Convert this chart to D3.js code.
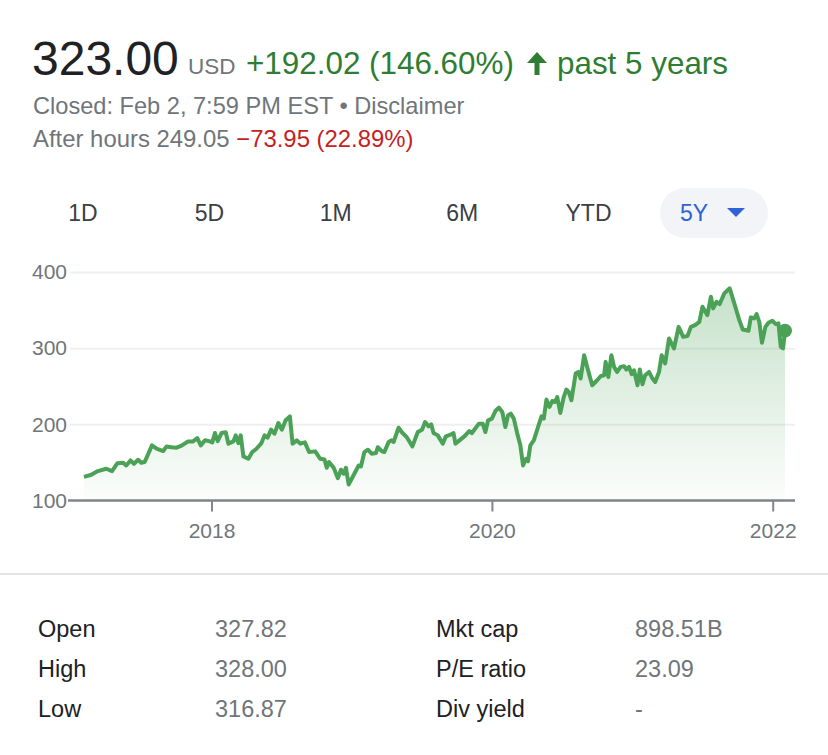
<!DOCTYPE html>
<html>
<head>
<meta charset="utf-8">
<script src="https://cdn.jsdelivr.net/npm/d3@7"></script>
<style>
  body { margin: 0; background: #fff; }
  svg { display: block; font-family: "Liberation Sans", Arial, sans-serif; }
</style>
</head>
<body>
<svg id="chart" width="828" height="755"></svg>
<script>
// price history
var dates = [
  "2017-02-03","2017-02-22","2017-03-11","2017-04-02","2017-04-17","2017-05-01","2017-05-16","2017-05-24",
  "2017-06-04","2017-06-13","2017-06-24","2017-07-02","2017-07-11","2017-07-30","2017-08-11","2017-08-28",
  "2017-09-06","2017-09-19","2017-10-02","2017-10-15","2017-11-01","2017-11-14","2017-11-25","2017-12-04",
  "2017-12-15","2017-12-28","2018-01-03","2018-01-10","2018-01-17","2018-01-27","2018-02-07","2018-02-14",
  "2018-02-27","2018-03-05","2018-03-12","2018-03-18","2018-03-25","2018-04-07","2018-04-17","2018-04-28",
  "2018-05-11","2018-05-19","2018-05-27","2018-06-05","2018-06-14","2018-06-24","2018-07-03","2018-07-13",
  "2018-07-24","2018-07-31","2018-08-11","2018-08-20","2018-09-01","2018-09-12","2018-09-28","2018-10-11",
  "2018-10-22","2018-10-28","2018-11-03","2018-11-15","2018-11-26","2018-12-04","2018-12-11","2018-12-17",
  "2018-12-24","2019-01-01","2019-01-19","2019-01-25","2019-02-03","2019-02-12","2019-02-22","2019-03-05",
  "2019-03-10","2019-03-20","2019-03-27","2019-04-07","2019-04-15","2019-04-20","2019-05-03","2019-05-11",
  "2019-05-24","2019-06-08","2019-06-22","2019-07-03","2019-07-11","2019-07-20","2019-07-27","2019-08-02",
  "2019-08-13","2019-08-26","2019-09-03","2019-09-17","2019-09-23","2019-09-28","2019-10-11","2019-10-24",
  "2019-11-03","2019-11-10","2019-11-28","2019-12-08","2019-12-15","2019-12-22","2020-01-01","2020-01-10",
  "2020-01-19","2020-01-28","2020-02-05","2020-02-12","2020-02-19","2020-02-27","2020-03-07","2020-03-15",
  "2020-03-22","2020-03-30","2020-04-04","2020-04-10","2020-04-19","2020-04-30","2020-05-09","2020-05-15",
  "2020-05-22","2020-05-30","2020-06-06","2020-06-13","2020-06-19","2020-06-27","2020-07-06","2020-07-13",
  "2020-07-19","2020-07-26","2020-08-06","2020-08-13","2020-08-19","2020-08-28","2020-09-05","2020-09-18",
  "2020-10-01","2020-10-10","2020-10-19","2020-10-23","2020-10-30","2020-11-07","2020-11-14","2020-11-22",
  "2020-12-01","2020-12-10","2020-12-16","2020-12-23","2020-12-30","2021-01-05","2021-01-14","2021-01-20",
  "2021-01-27","2021-02-03","2021-02-13","2021-02-22","2021-03-01","2021-03-11","2021-03-18","2021-03-27",
  "2021-04-06","2021-04-19","2021-05-01","2021-05-13","2021-05-24","2021-06-02","2021-06-13","2021-06-24",
  "2021-07-02","2021-07-15","2021-07-24","2021-07-30","2021-08-08","2021-08-16","2021-08-28","2021-09-11",
  "2021-09-23","2021-10-06","2021-10-15","2021-10-30","2021-11-05","2021-11-14","2021-11-20","2021-11-27",
  "2021-12-04","2021-12-13","2021-12-21","2021-12-31","2022-01-09","2022-01-16","2022-01-22","2022-01-28",
  "2022-02-02"
];
var prices = [
  131, 133.8, 138.6, 141.7, 138.6, 149, 149.6, 146,
  152.6, 148.2, 153.5, 149.6, 150.5, 172.4, 168, 164.9,
  171, 170, 169.3, 172, 177.6, 177.6, 182, 172.4,
  179, 177.6, 176.3, 188.6, 178, 188.6, 189.5, 174.6,
  177.6, 185.5, 175.4, 185.5, 157.9, 154.8, 163.6, 168,
  175.4, 185.5, 182.5, 193, 187.8, 201.7, 193, 205.3,
  210.5, 174.6, 179, 174.6, 176.3, 163.6, 164.5, 154.8,
  153.9, 143, 150.4, 143, 129.3, 140.4, 135.1, 143,
  121, 128.5, 146, 144.7, 163.6, 166.7, 161.4, 162.3,
  170, 164.9, 163.6, 176.8, 179, 176.8, 195.6, 189.9,
  183.3, 171, 189.9, 193, 203, 197.4, 200, 188.6,
  185.5, 174.6, 184.2, 186.8, 188.6, 174.6, 179.9, 185.5,
  191.2, 188.6, 200.9, 200.9, 189.9, 205.3, 207.5, 217.5,
  222, 216.2, 196.4, 211.8, 214, 207.5, 187.8, 172.4,
  146, 154.8, 151.7, 172.4, 179, 196.4, 210.5, 207.5,
  232.5, 222.8, 230.7, 229.3, 235.9, 214.9, 235.9, 245.7,
  242.5, 231.6, 266.7, 268.8, 260.1, 290.8, 275.4, 251.3,
  257.9, 263.2, 264.5, 282, 262.2, 290.8, 275.4, 268.8,
  275.4, 276.3, 272, 275.4, 265.8, 271, 251.3, 272,
  252.6, 264.5, 268.8, 260.1, 255.7, 268.8, 290.8, 279.9,
  312.7, 299.6, 328, 314.9, 315.8, 328, 330.3, 334.6,
  354.3, 343.4, 367.5, 352.2, 360.9, 357.9, 371.9, 378.6,
  358.8, 336.8, 324.6, 322.8, 340.4, 339.1, 344.7, 334.6,
  307, 328, 333.3, 335.9, 331.6, 332.5, 301.7, 299.6,
  323
];
var yTicks = [100, 200, 300, 400];
var xTickYears = [2018, 2020, 2022];
var ranges = ["1D", "5D", "1M", "6M", "YTD"];
var activeRange = "5Y";
var statLabelsL = ["Open", "High", "Low"];
var statValuesL = ["327.82", "328.00", "316.87"];
var statLabelsR = ["Mkt cap", "P/E ratio", "Div yield"];
var statValuesR = ["898.51B", "23.09", "-"];

var green = "#4ba257", greenText = "#2e7d32", gray = "#70757a", dark = "#202124";

var svg = d3.select("#chart");
var parse = d3.timeParse("%Y-%m-%d");
var data = dates.map(function(d, i) { return {date: parse(d), price: prices[i]}; });

// header
svg.append("text").attr("x", 32).attr("y", 75).attr("font-size", 48).attr("fill", dark).text("323.00");
svg.append("text").attr("x", 188).attr("y", 74).attr("font-size", 22.5).attr("fill", gray).text("USD");
svg.append("text").attr("x", 246).attr("y", 74).attr("font-size", 31.4).attr("fill", greenText).text("+192.02 (146.60%)");
svg.append("path").attr("fill", greenText)
  .attr("d", "M537,52 L547,63 L539.5,63 L539.5,75 L534.5,75 L534.5,63 L527,63 Z");
svg.append("text").attr("x", 557).attr("y", 74).attr("font-size", 31.4).attr("fill", greenText).text("past 5 years");
svg.append("text").attr("x", 33).attr("y", 114).attr("font-size", 23.6).attr("fill", gray)
  .text("Closed: Feb 2, 7:59 PM EST \u2022 Disclaimer");
var ah = svg.append("text").attr("x", 33).attr("y", 147).attr("font-size", 23.9).attr("fill", gray);
ah.append("tspan").text("After hours 249.05 ");
ah.append("tspan").attr("fill", "#c5221f").text("\u221273.95 (22.89%)");

// range selector
var tabX = d3.scalePoint().domain(ranges).range([83, 588.5]);
svg.selectAll(".tab").data(ranges).enter().append("text")
  .attr("class", "tab")
  .attr("x", function(d) { return tabX(d); })
  .attr("y", 221)
  .attr("text-anchor", "middle")
  .attr("font-size", 23)
  .attr("fill", "#3c4043")
  .text(function(d) { return d; });
svg.append("rect").attr("x", 660).attr("y", 188).attr("width", 108).attr("height", 50).attr("rx", 25)
  .attr("fill", "#f2f4f7");
svg.append("text").attr("x", 680).attr("y", 221).attr("font-size", 23).attr("fill", "#2f62d6").text(activeRange);
svg.append("path").attr("fill", "#2f62d6").attr("d", "M727,208 L745,208 L736,217 Z");

// chart
var x = d3.scaleTime().domain(d3.extent(data, function(d) { return d.date; })).range([84, 785]);
var y = d3.scaleLinear().domain([100, 400]).range([500.5, 272]);

var defs = svg.append("defs");
var grad = defs.append("linearGradient").attr("id", "fill")
  .attr("gradientUnits", "userSpaceOnUse").attr("x1", 0).attr("x2", 0).attr("y1", 285).attr("y2", 500);
grad.append("stop").attr("offset", 0).attr("stop-color", green).attr("stop-opacity", 0.32);
grad.append("stop").attr("offset", 1).attr("stop-color", green).attr("stop-opacity", 0.02);

svg.append("g")
  .attr("transform", "translate(70,0)")
  .call(d3.axisLeft(y).tickValues(yTicks).tickSize(-725).tickPadding(3))
  .call(function(g) {
    g.select(".domain").remove();
    g.selectAll("line").attr("stroke", "#efefef").attr("stroke-width", 2);
    g.selectAll("text").attr("font-size", 21).attr("fill", gray).attr("font-family", "Liberation Sans, Arial");
  });

svg.append("path").datum(data)
  .attr("fill", "url(#fill)")
  .attr("d", d3.area().x(function(d) { return x(d.date); }).y0(y(100)).y1(function(d) { return y(d.price); }));

svg.append("line").attr("x1", 68).attr("x2", 795).attr("y1", y(100)).attr("y2", y(100))
  .attr("stroke", "#80868b").attr("stroke-width", 2.5);

svg.append("g")
  .attr("transform", "translate(0," + y(100) + ")")
  .call(d3.axisBottom(x)
    .tickValues(xTickYears.map(function(yr) { return new Date(yr, 0, 1); }))
    .tickFormat(d3.timeFormat("%Y")).tickSize(11).tickPadding(12))
  .call(function(g) {
    g.select(".domain").remove();
    g.selectAll("line").attr("stroke", "#80868b").attr("stroke-width", 2);
    g.selectAll("text").attr("font-size", 21).attr("fill", gray).attr("font-family", "Liberation Sans, Arial");
  });

svg.append("path").datum(data)
  .attr("fill", "none")
  .attr("stroke", green)
  .attr("stroke-width", 4)
  .attr("stroke-linejoin", "round")
  .attr("d", d3.line().x(function(d) { return x(d.date); }).y(function(d) { return y(d.price); }));

var last = data[data.length - 1];
svg.append("circle").attr("cx", x(last.date)).attr("cy", y(last.price)).attr("r", 7).attr("fill", green);

// divider and key stats
svg.append("line").attr("x1", 0).attr("x2", 828).attr("y1", 574).attr("y2", 574)
  .attr("stroke", "#e3e3e3").attr("stroke-width", 2);

var rowY = d3.scalePoint().domain([0, 1, 2]).range([637, 717]);
function statCol(labels, xpos, color) {
  svg.selectAll(null).data(labels).enter().append("text")
    .attr("x", xpos).attr("y", function(d, i) { return rowY(i); })
    .attr("font-size", 23.5).attr("fill", color)
    .text(function(d) { return d; });
}
statCol(statLabelsL, 38, dark);
statCol(statValuesL, 215, gray);
statCol(statLabelsR, 436, dark);
statCol(statValuesR, 635, gray);
</script>
</body>
</html>
